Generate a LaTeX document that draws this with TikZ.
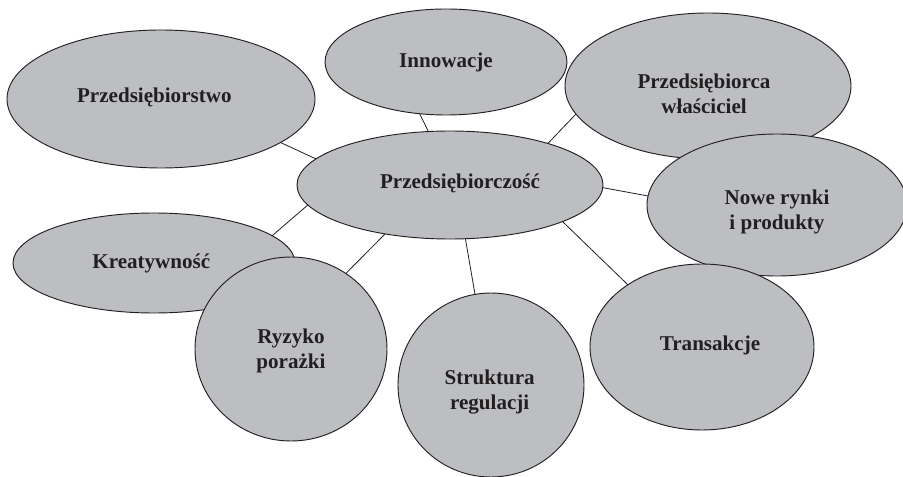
\documentclass[tikz,border=0pt]{standalone}
\usepackage{fontspec}
\setmainfont{Liberation Serif}
\usetikzlibrary{shapes.geometric}
\definecolor{bubfill}{RGB}{189,190,194}
\definecolor{ink}{RGB}{35,31,32}
\begin{document}
\begin{tikzpicture}[x=0.75pt,y=-0.75pt,
  bub/.style={ellipse, draw=ink, line width=0.7pt, fill=bubfill, inner sep=0pt, outer sep=0pt},
  lbl/.style={font=\bfseries\fontsize{15.8}{18.75}\selectfont, text=ink, align=center, inner sep=0pt},
  link/.style={draw=ink, line width=0.6pt}]
\clip (0,0) rectangle (903,477);
\node[bub, minimum width=231pt, minimum height=103.5pt,
  label={[lbl,xshift=-5pt,yshift=1.5pt]center:Przedsiębiorstwo}] (pstwo) at (161,99) {};
\node[bub, minimum width=181.5pt, minimum height=79.5pt,
  label={[lbl]center:Innowacje}] (innow) at (446,62) {};
\node[bub, minimum width=229.5pt, minimum height=81pt,
  label={[lbl,xshift=7.5pt,yshift=1.5pt]center:Przedsiębiorczość}] (center) at (450,185) {};
\node[bub, minimum width=214.5pt, minimum height=109.5pt,
  label={[lbl,xshift=-3pt,yshift=-6pt]center:{Przedsiębiorca\\właściciel}}] (pca) at (708,86) {};
\node[bub, minimum width=195pt, minimum height=106.5pt,
  label={[lbl,xshift=0pt,yshift=-5pt]center:{Nowe rynki\\i produkty}}] (nowe) at (777,205) {};
\node[bub, minimum width=168pt, minimum height=124.5pt,
  label={[lbl,xshift=6pt,yshift=1pt]center:Transakcje}] (trans) at (702,347) {};
\node[bub, minimum width=211.5pt, minimum height=75pt,
  label={[lbl,xshift=-2pt]center:Kreatywność}] (kreat) at (154,263) {};
\node[bub, minimum width=144pt, minimum height=138pt,
  label={[lbl,yshift=-1.5pt]center:{Ryzyko\\porażki}}] (ryzyko) at (291,349) {};
\node[bub, minimum width=139.5pt, minimum height=138pt,
  label={[lbl,xshift=-1pt,yshift=-5pt]center:{Struktura\\regulacji}}] (strukt) at (491,385) {};
\draw[link] (pstwo.-20.3) -- (center.169.9);
\draw[link] (innow.-117.6) -- (center.112.2);
\draw[link] (pca.-168.4) -- (center.23);
\draw[link] (center.-1.9) -- (nowe.176.4);
\draw[link] (center.-18.8) -- (trans.140.7);
\draw[link] (center.-74.2) -- (strukt.100.5);
\draw[link] (center.-143.6) -- (ryzyko.54.6);
\draw[link] (center.-172.5) -- (kreat.13.2);
\end{tikzpicture}
\end{document}
